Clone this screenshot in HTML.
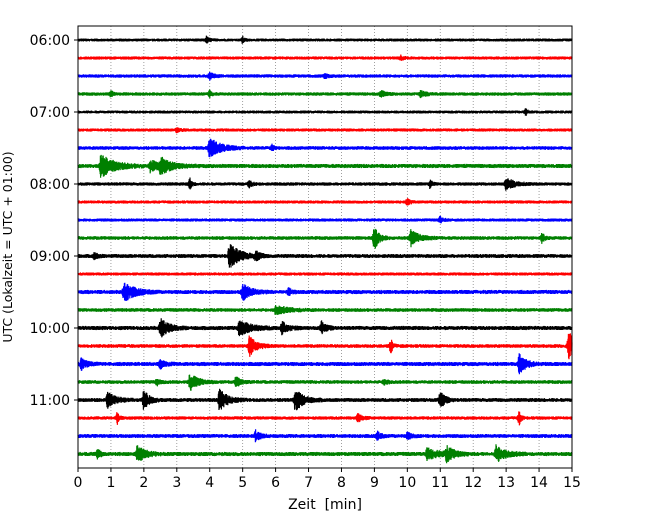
<!DOCTYPE html>
<html><head><meta charset="utf-8"><style>
body{margin:0;background:#fff;}
svg text{font-family:"DejaVu Sans","Liberation Sans",sans-serif;fill:#000;}
</style></head><body>
<svg id="c" width="650" height="520" xmlns="http://www.w3.org/2000/svg">
<rect width="650" height="520" fill="#fff"/>
<g id="grid"></g><g id="traces"></g><g id="axes"></g>
</svg>
<script>
// trace labels (every 15 min row), colours cycle
const rowLabels = ["06:00","06:15","06:30","06:45","07:00","07:15","07:30","07:45","08:00","08:15","08:30","08:45","09:00","09:15","09:30","09:45","10:00","10:15","10:30","10:45","11:00","11:15","11:30","11:45"];
const colors = ["#000000","#ff0000","#0000ff","#008000"];
const xTicks = [0,1,2,3,4,5,6,7,8,9,10,11,12,13,14,15];
const yTickLabels = ["06:00","07:00","08:00","09:00","10:00","11:00"];
// background noise level per row (px)
const noiseLevel = [1.3,1.4,1.5,1.5,1.3,1.4,1.6,1.8,1.5,1.4,1.4,1.6,1.7,1.4,1.8,1.6,1.8,1.6,1.8,1.6,1.7,1.5,1.7,1.8];
// events: [row, minute, amplitude px, duration min]
const events = [
[0,3.9,3,0.2],[0,5.0,3,0.1],[1,9.8,2,0.2],[2,4.0,3,0.3],[2,7.5,2,0.2],
[3,1.0,3,0.1],[3,4.0,3,0.1],[3,9.2,3,0.3],[3,10.4,3,0.4],[4,13.6,3,0.1],[5,3.0,2,0.2],
[6,4.0,10,0.8],[6,5.9,3,0.1],[7,0.7,11,1.0],[7,2.2,6,0.6],[7,2.5,7,0.9],
[8,3.4,5,0.1],[8,5.2,3,0.2],[8,10.7,4,0.1],[8,13.0,6,0.6],[9,10.0,3,0.2],[10,11.0,3,0.2],
[11,9.0,12,0.3],[11,10.1,8,0.6],[11,14.1,5,0.1],
[12,0.5,3,0.2],[12,4.6,12,0.8],[12,5.4,4,0.3],
[14,1.4,9,0.8],[14,5.0,8,0.6],[14,6.4,3,0.2],[15,6.0,4,1.0],
[16,2.5,9,0.6],[16,4.9,7,0.9],[16,6.2,6,0.4],[16,7.4,6,0.3],
[17,5.2,10,0.5],[17,9.5,7,0.1],[17,14.9,14,0.5],
[18,0.1,5,0.4],[18,2.5,4,0.3],[18,13.4,9,0.5],
[19,2.4,3,0.2],[19,3.4,8,0.6],[19,4.8,5,0.3],[19,9.3,3,0.2],
[20,0.9,7,0.6],[20,2.0,9,0.4],[20,4.3,10,0.6],[20,6.6,11,0.6],[20,11.0,9,0.3],
[21,1.2,6,0.1],[21,8.5,4,0.3],[21,13.4,6,0.1],
[22,5.4,5,0.3],[22,9.1,4,0.2],[22,10.0,3,0.3],
[23,0.6,4,0.2],[23,1.8,8,0.6],[23,10.6,5,1.0],[23,11.2,7,0.5],[23,12.7,8,0.7]
];
const X0=78,X1=572,Y0=26,Y1=468,ROW0=40,DY=18;
const xs=m=>X0+(X1-X0)*m/15;
const ys=r=>ROW0+r*DY;
const NS="http://www.w3.org/2000/svg";
function mk(t,a,p){const e=document.createElementNS(NS,t);for(const k in a)e.setAttribute(k,a[k]);p.appendChild(e);return e;}
let seed=12345;function rnd(){seed=(seed*1103515245+12345)&0x7fffffff;return seed/0x7fffffff;}
const grid=document.getElementById('grid'),tr=document.getElementById('traces'),ax=document.getElementById('axes');
xTicks.forEach(t=>{if(t>0&&t<15){const l=mk('line',{x1:xs(t),x2:xs(t),y1:Y0,y2:Y1,stroke:'#888','stroke-width':0.8,'stroke-dasharray':'1,2'},grid);

}});
rowLabels.forEach((lab,r)=>{
  const ev=events.filter(e=>e[0]===r);
  let d='';const y0=ys(r);let sgn=1;
  for(let px=0;px<=X1-X0;px+=0.2){
    const m=px/(X1-X0)*15;let a=noiseLevel[r]*1.15;
    ev.forEach(e=>{const dt=m-e[1];const w=e[3];
      if(dt>-0.1&&dt<w*1.2+0.1){const env=dt<0?Math.exp(-Math.pow(dt/0.04,2)):Math.exp(-dt/(w*0.35+0.02));a+=e[2]*env;}});
    sgn=-sgn;
    const v=sgn*(0.3+0.7*rnd())*a;
    d+=(px===0?'M':'L')+(X0+px).toFixed(1)+','+(y0+v).toFixed(1);
  }
  const p=mk('path',{d:d,fill:'none',stroke:colors[r%4],'stroke-width':1.2},tr);
  
  
});
const fr=mk('rect',{x:X0,y:Y0,width:X1-X0,height:Y1-Y0,fill:'none',stroke:'#000','stroke-width':1},ax);


xTicks.forEach(t=>{mk('line',{x1:xs(t),x2:xs(t),y1:Y1,y2:Y1+4,stroke:'#000'},ax);
  const tx=mk('text',{x:xs(t),y:Y1+19,'text-anchor':'middle','font-size':14},ax);tx.textContent=t;
  
  });
yTickLabels.forEach((lab,i)=>{const y=ys(i*4);mk('line',{x1:X0-4,x2:X0,y1:y,y2:y,stroke:'#000'},ax);
  const tx=mk('text',{x:X0-8,y:y+5,'text-anchor':'end','font-size':14},ax);tx.textContent=lab;
  
  });
const xl=mk('text',{x:(X0+X1)/2,y:509,'text-anchor':'middle','font-size':14,style:'white-space:pre'},ax);xl.textContent='Zeit  [min]';


const yl=mk('text',{x:0,y:0,'text-anchor':'middle','font-size':12.5,transform:'translate(12,247) rotate(-90)'},ax);yl.textContent='UTC (Lokalzeit = UTC + 01:00)';


</script>
</body></html>
